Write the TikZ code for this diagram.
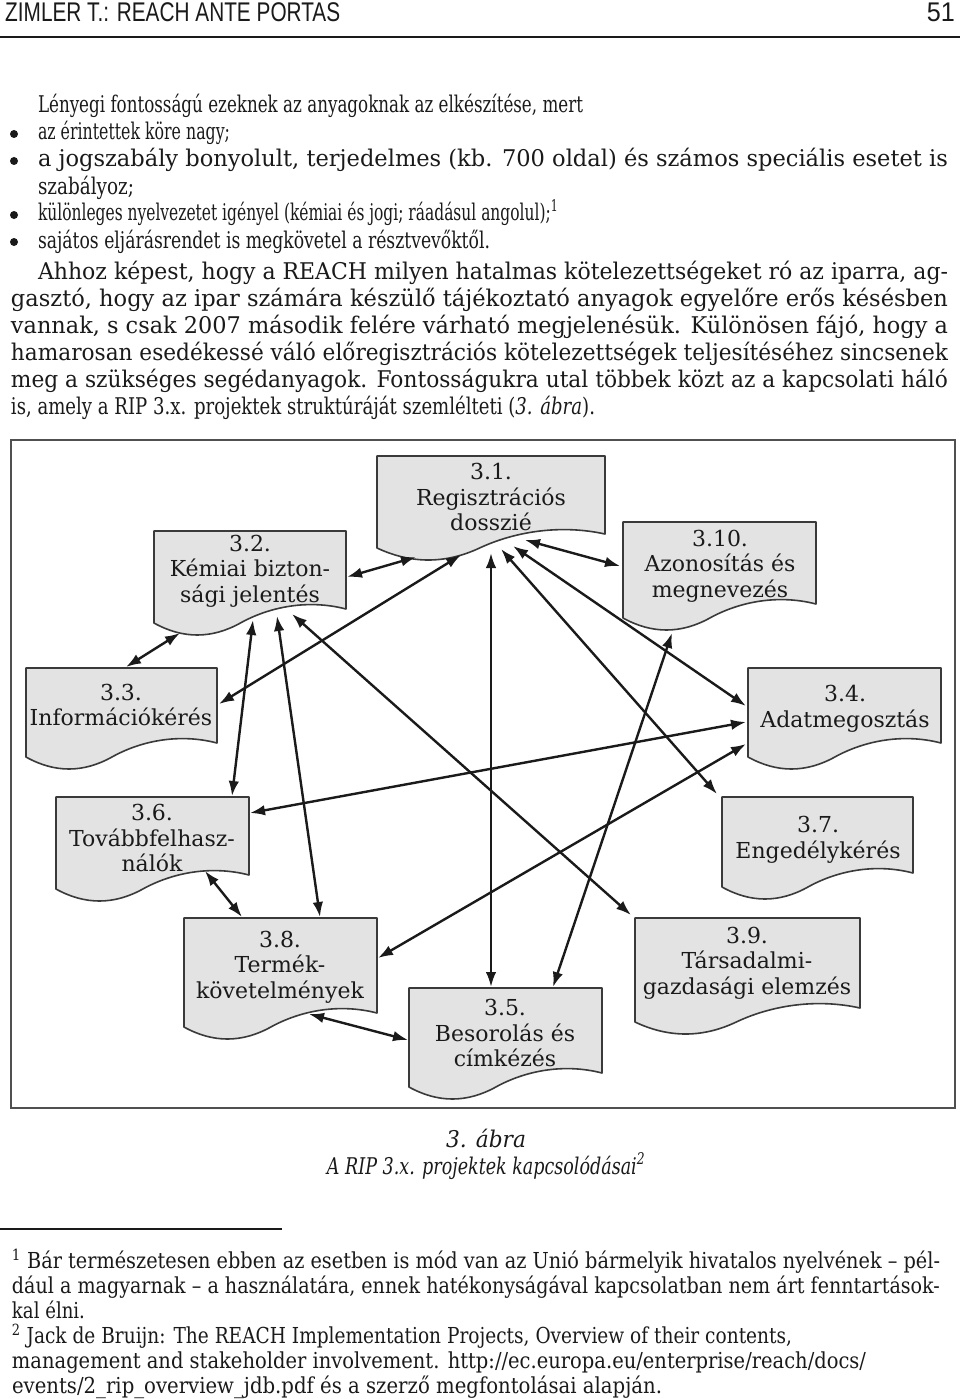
\documentclass[tikz,border=0pt]{standalone}
\usepackage{fontspec}
\usepackage{graphicx}
\setmainfont{DejaVu Serif}
\newfontfamily\hdrfont{Liberation Sans}
\usetikzlibrary{arrows.meta}
\definecolor{ink}{HTML}{1A1A1A}
\definecolor{boxfill}{HTML}{E3E3E3}
\definecolor{boxline}{HTML}{3A3A3A}
\definecolor{framecol}{HTML}{505050}
\newcommand\fitw[2]{\resizebox{#1pt}{\height}{#2}}
% document shape: #1 L, #2 T, #3 R, #4 B (bottom of left side)
\newcommand\docshape[4]{%
  \draw[docbox] (#1,#2) -- (#3,#2) -- (#3,#4-14)
    .. controls ({#1+0.8*(#3-#1)},#4-24) and ({#1+0.6*(#3-#1)},#4-16) .. ({#1+0.45*(#3-#1)},#4)
    .. controls ({#1+0.3*(#3-#1)},#4+16) and ({#1+0.15*(#3-#1)},#4+16) .. (#1,#4) -- cycle;}
\tikzset{
  txt/.style={anchor=base west, inner sep=0, outer sep=0, text=ink, font=\fontsize{23}{27}\selectfont},
  fn/.style={anchor=base west, inner sep=0, outer sep=0, text=ink, font=\fontsize{22}{25}\selectfont},
  bulletdot/.style={circle, fill=ink, inner sep=0, minimum size=8pt},
  docbox/.style={fill=boxfill, draw=boxline, line width=1.6pt, line join=round},
  lbl/.style={align=center, inner sep=0, text=ink, font=\fontsize{22}{25.5}\selectfont},
  conn/.style={draw=ink, line width=2.4pt, {Latex[length=15pt,width=10.5pt]}-{Latex[length=15pt,width=10.5pt]}},
}
\begin{document}
\begin{tikzpicture}[x=1pt,y=-1pt]
\useasboundingbox (0,0) rectangle (960,1399);
\fill[white] (0,0) rectangle (960,1399);

% header
\node[anchor=base west, inner sep=0, text=ink] (hdr) at (5,22) {\hdrfont\fontsize{27}{28}\selectfont\fitw{335}{ZIMLER T.: REACH ANTE PORTAS}};
\node[anchor=base east, inner sep=0, text=ink] (pg) at (955,22) {\hdrfont\fontsize{27}{28}\selectfont\fitw{28}{51}};
\draw[ink, line width=2.2pt] (0,37) -- (960,37);

% body text
\node[txt] (p0) at (38,113) {\fitw{545}{Lényegi fontosságú ezeknek az anyagoknak az elkészítése, mert}};
\node[bulletdot] (d1) at (14,134) {};
\node[txt] (b1) at (38,140) {\fitw{192}{az érintettek köre nagy;}};
\node[bulletdot] (d2) at (14,161) {};
\node[txt] (b2) at (38,167) {\fitw{910}{a jogszabály bonyolult, terjedelmes (kb. 700 oldal) és számos speciális esetet is}};
\node[txt] (b2b) at (38,194) {\fitw{96}{szabályoz;}};
\node[bulletdot] (d3) at (14,215) {};
\node[txt] (b3) at (38,221) {\fitw{520}{különleges nyelvezetet igényel (kémiai és jogi; ráadásul angolul);\textsuperscript{1}}};
\node[bulletdot] (d4) at (14,242) {};
\node[txt] (b4) at (38,248) {\fitw{452}{sajátos eljárásrendet is megkövetel a résztvevőktől.}};

\node[txt] (q1) at (38,279) {\fitw{910}{Ahhoz képest, hogy a REACH milyen hatalmas kötelezettségeket ró az iparra, ag-}};
\node[txt] (q2) at (11,306) {\fitw{937}{gasztó, hogy az ipar számára készülő tájékoztató anyagok egyelőre erős késésben}};
\node[txt] (q3) at (11,333) {\fitw{937}{vannak, s csak 2007 második felére várható megjelenésük. Különösen fájó, hogy a}};
\node[txt] (q4) at (11,360) {\fitw{937}{hamarosan esedékessé váló előregisztrációs kötelezettségek teljesítéséhez sincsenek}};
\node[txt] (q5) at (11,387) {\fitw{937}{meg a szükséges segédanyagok. Fontosságukra utal többek közt az a kapcsolati háló}};
\node[txt] (q6) at (11,414) {\fitw{584}{is, amely a RIP 3.x. projektek struktúráját szemlélteti (\textit{3. ábra}).}};

% diagram frame
\draw[framecol, line width=2pt] (11,440) rectangle (955,1108);

% boxes
\docshape{377}{456}{605}{548}
\docshape{154}{531}{346}{623}
\docshape{623}{522}{816}{618}
\docshape{26}{668}{217}{757}
\docshape{748}{668}{941}{757}
\docshape{56}{797}{249}{889}
\docshape{722}{797}{913}{887}
\docshape{184}{918}{377}{1027}
\docshape{635}{918}{860}{1022}
\docshape{409}{988}{602}{1087}

\node[lbl] (n31) at (491,497) {3.1.\\Regisztrációs\\dosszié};
\node[lbl] (n32) at (250,571) {3.2.\\Kémiai bizton-\\sági jelentés};
\node[lbl] (n310) at (720,566) {3.10.\\Azonosítás és\\megnevezés};
\node[lbl] (n33) at (121,705) {3.3.\\Információkérés};
\node[lbl] (n34) at (845,709) {3.4.\\Adatmegosztás};
\node[lbl] (n36) at (152,838) {3.6.\\Továbbfelhasz-\\nálók};
\node[lbl] (n37) at (818,840) {3.7.\\Engedélykérés};
\node[lbl] (n38) at (280,967) {3.8.\\Termék-\\követelmények};
\node[lbl] (n39) at (747,963) {3.9.\\Társadalmi-\\gazdasági elemzés};
\node[lbl] (n35) at (505,1033) {3.5.\\Besorolás és\\címkézés};

% connector end points
\coordinate (e32r)  at (347,577);  \coordinate (e31a) at (416,557);
\coordinate (e31f)  at (525,540);  \coordinate (e310l) at (620,566);
\coordinate (e32b1) at (180,633);  \coordinate (e33t) at (126,667);
\coordinate (e33r)  at (219,704);  \coordinate (e31b) at (461,555);
\coordinate (e32b2) at (253,620);  \coordinate (e36t) at (232,796);
\coordinate (e32b3) at (277,616);  \coordinate (e38t1) at (320,917);
\coordinate (e32b4) at (292,614);  \coordinate (e39t) at (631,915);
\coordinate (e31c)  at (491,553);  \coordinate (e35t1) at (491,987);
\coordinate (e31d)  at (501,549);  \coordinate (e37t) at (717,794);
\coordinate (e31e)  at (513,546);  \coordinate (e34l1) at (746,706);
\coordinate (e310b) at (672,633);  \coordinate (e35t2) at (553,987);
\coordinate (e36r)  at (250,813);  \coordinate (e34l2) at (746,722);
\coordinate (e34l3) at (746,744);  \coordinate (e38r) at (378,958);
\coordinate (e36b)  at (205,871);  \coordinate (e38t2) at (242,917);
\coordinate (e38b)  at (309,1014); \coordinate (e35l) at (408,1040);

\draw[conn] (e32r) -- (e31a);
\draw[conn] (e31f) -- (e310l);
\draw[conn] (e32b1) -- (e33t);
\draw[conn] (e33r) -- (e31b);
\draw[conn] (e32b2) -- (e36t);
\draw[conn] (e32b3) -- (e38t1);
\draw[conn] (e32b4) -- (e39t);
\draw[conn] (e31c) -- (e35t1);
\draw[conn] (e31d) -- (e37t);
\draw[conn] (e31e) -- (e34l1);
\draw[conn] (e310b) -- (e35t2);
\draw[conn] (e36r) -- (e34l2);
\draw[conn] (e34l3) -- (e38r);
\draw[conn] (e36b) -- (e38t2);
\draw[conn] (e38b) -- (e35l);

% caption
\node[anchor=base, inner sep=0, text=ink] (cap1) at (486,1147) {\fontsize{23}{26}\selectfont\itshape\fitw{80}{3. ábra}};
\node[anchor=base, inner sep=0, text=ink] (cap2) at (486,1174) {\fontsize{23}{26}\selectfont\itshape\fitw{318}{A RIP 3.x. projektek kapcsolódásai\textsuperscript{2}}};

% footnotes
\draw[ink, line width=1.8pt] (0,1229) -- (282,1229);
\node[fn] (f1) at (12,1268) {\fitw{928}{\textsuperscript{1} Bár természetesen ebben az esetben is mód van az Unió bármelyik hivatalos nyelvének – pél-}};
\node[fn] (f2) at (12,1293) {\fitw{928}{dául a magyarnak – a használatára, ennek hatékonyságával kapcsolatban nem árt fenntartások-}};
\node[fn] (f3) at (12,1318) {\fitw{73}{kal élni.}};
\node[fn] (f4) at (12,1343) {\fitw{780}{\textsuperscript{2} Jack de Bruijn: The REACH Implementation Projects, Overview of their contents,}};
\node[fn] (f5) at (12,1368) {\fitw{854}{management and stakeholder involvement. http://ec.europa.eu/enterprise/reach/docs/}};
\node[fn] (f6) at (12,1393) {\fitw{650}{events/2\_rip\_overview\_jdb.pdf és a szerző megfontolásai alapján.}};
\end{tikzpicture}
\end{document}
